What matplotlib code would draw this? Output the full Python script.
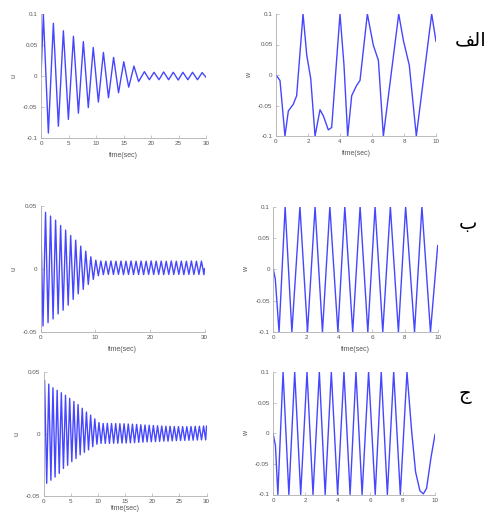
import numpy as np
import matplotlib
matplotlib.use("Agg")
import matplotlib.pyplot as plt

plt.rcParams['font.family'] = ['Liberation Sans', 'DejaVu Sans']

# --- case "alef": u(t) turning points, 0..30 s
u1_t = [0, 0.43, 1.34, 2.25, 3.16, 4.07, 4.98, 5.9, 6.8, 7.7, 8.6, 9.5, 10.43, 11.35,
        12.27, 13.2, 14.1, 15.05, 15.95, 16.9, 17.75, 18.8, 19.7, 20.55, 21.45, 22.3,
        23.2, 24.05, 24.95, 25.8, 26.7, 27.55, 28.45, 29.3, 30.0]
u1 = [0, 0.099, -0.092, 0.085, -0.081, 0.073, -0.070, 0.064, -0.060, 0.0555, -0.051,
      0.046, -0.042, 0.038, -0.035, 0.030, -0.027, 0.023, -0.018, 0.016, -0.009, 0.007,
      -0.006, 0.006, -0.006, 0.0065, -0.006, 0.006, -0.0065, 0.006, -0.006, 0.006,
      -0.006, 0.0055, -0.002]

# --- case "alef": w(t), 0..10 s
w1_t = [0, 0.25, 0.56, 0.77, 1.08, 1.29, 1.69, 1.92, 2.17, 2.44, 2.75, 2.96, 3.27, 3.48,
        4.0, 4.25, 4.48, 4.73, 5.04, 5.25, 5.71, 6.08, 6.4, 6.71, 7.67, 7.96, 8.33, 8.77,
        9.73, 10.0]
w1 = [0, -0.009, -0.1, -0.059, -0.048, -0.034, 0.1, 0.033, -0.006, -0.1, -0.057, -0.067,
      -0.09, -0.086, 0.1, 0.016, -0.1, -0.034, -0.017, -0.009, 0.1, 0.049, 0.024, -0.1,
      0.1, 0.057, 0.016, -0.1, 0.1, 0.055]

# --- case "be": u(t) peaks / troughs
u2_pk_t = [0.0, 0.92, 1.84, 2.76, 3.68, 4.6, 5.52, 6.44, 7.36, 8.28, 9.2, 10.12, 11.04,
           11.96, 12.88, 13.8, 14.72, 15.64, 16.56, 17.48, 18.4, 19.32, 20.24, 21.16,
           22.08, 23.0, 23.92, 24.84, 25.76, 26.68, 27.6, 28.52, 29.44]
u2_pk = [0.05, 0.045, 0.042, 0.0387, 0.0345, 0.0308, 0.0265, 0.0228, 0.018, 0.014, 0.0095,
         0.0068, 0.0062, 0.006, 0.0062, 0.006, 0.0061, 0.006, 0.0062, 0.006, 0.0061, 0.006,
         0.0062, 0.006, 0.0061, 0.006, 0.0062, 0.006, 0.0061, 0.006, 0.0062, 0.006, 0.0061]
u2_tr_t = [0.46, 1.38, 2.3, 3.22, 4.14, 5.06, 5.98, 6.9, 7.82, 8.74, 9.66, 10.58, 11.5,
           12.42, 13.34, 14.26, 15.18, 16.1, 17.02, 17.94, 18.86, 19.78, 20.7, 21.62,
           22.54, 23.46, 24.38, 25.3, 26.22, 27.14, 28.06, 28.98, 29.9]
u2_tr = [-0.0456, -0.043, -0.04, -0.036, -0.033, -0.029, -0.0244, -0.02, -0.0164, -0.0125,
         -0.0085, -0.0055, -0.0047, -0.0045, -0.0046, -0.0045, -0.0047, -0.0045, -0.0046,
         -0.0045, -0.0047, -0.0045, -0.0046, -0.0045, -0.0047, -0.0045, -0.0046, -0.0045,
         -0.0047, -0.0045, -0.0046, -0.0045, -0.0047]

# --- case "be": w(t)
w2_t = [0, 0.12, 0.35, 0.72, 1.13, 1.62, 2.08, 2.54, 2.99, 3.44, 3.93, 4.35, 4.83, 5.28,
        5.75, 6.19, 6.66, 7.12, 7.61, 8.05, 8.59, 9.04, 9.56, 10.0]
w2 = [0, -0.015, -0.1, 0.1, -0.1, 0.1, -0.1, 0.1, -0.1, 0.1, -0.1, 0.1, -0.1, 0.1, -0.1,
      0.1, -0.1, 0.1, -0.1, 0.1, -0.1, 0.1, -0.1, 0.038]

# --- case "jim": u(t) peaks / troughs
u3_pk_t = [0.2, 0.97, 1.74, 2.51, 3.28, 4.05, 4.82, 5.59, 6.36, 7.13, 7.9, 8.67, 9.44,
           10.21, 10.98, 11.75, 12.52, 13.29, 14.06, 14.83, 15.6, 16.37, 17.14, 17.91,
           18.68, 19.45, 20.22, 20.99, 21.76, 22.53, 23.3, 24.07, 24.84, 25.61, 26.38,
           27.15, 27.92, 28.69, 29.46]
u3_pk = [0.043, 0.040, 0.037, 0.035, 0.033, 0.031, 0.0285, 0.026, 0.0235, 0.0205, 0.0175,
         0.015, 0.012, 0.009, 0.0083, 0.0083, 0.0082, 0.0082, 0.008, 0.008, 0.0078, 0.0077,
         0.0075, 0.0072, 0.007, 0.0068, 0.0066, 0.0064, 0.0062, 0.006, 0.006, 0.0058,
         0.0057, 0.0057, 0.0057, 0.0058, 0.006, 0.006, 0.0062]
u3_tr_t = [0.59, 1.36, 2.13, 2.9, 3.67, 4.44, 5.21, 5.98, 6.75, 7.52, 8.29, 9.06, 9.83,
           10.6, 11.37, 12.14, 12.91, 13.68, 14.45, 15.22, 15.99, 16.76, 17.53, 18.3,
           19.07, 19.84, 20.61, 21.38, 22.15, 22.92, 23.69, 24.46, 25.23, 26.0, 26.77,
           27.54, 28.31, 29.08, 29.85]
u3_tr = [-0.040, -0.0375, -0.035, -0.032, -0.028, -0.0255, -0.0225, -0.020, -0.017, -0.015,
         -0.013, -0.0105, -0.0085, -0.0078, -0.0078, -0.0078, -0.0077, -0.0077, -0.0076,
         -0.0075, -0.0074, -0.0072, -0.007, -0.0068, -0.0066, -0.0065, -0.0064, -0.0062,
         -0.006, -0.006, -0.0058, -0.0056, -0.0055, -0.0054, -0.0053, -0.0052, -0.0051,
         -0.005, -0.005]

# --- case "jim": w(t)
w3_t = [0, 0.15, 0.3, 0.62, 0.98, 1.34, 1.71, 2.1, 2.47, 2.86, 3.22, 3.6, 3.99, 4.38,
        4.76, 5.12, 5.5, 5.9, 6.31, 6.68, 7.06, 7.45, 7.86, 8.27, 8.56, 8.8, 9.07, 9.28,
        9.48, 9.75, 10.0]
w3 = [0, -0.02, -0.1, 0.1, -0.1, 0.1, -0.1, 0.1, -0.1, 0.1, -0.1, 0.1, -0.1, 0.1, -0.1,
      0.1, -0.1, 0.1, -0.1, 0.1, -0.1, 0.1, -0.1, 0.1, 0.003, -0.063, -0.094, -0.099,
      -0.09, -0.04, -0.002]

# Arabic case labels, written in visual (left-to-right) presentation forms
case_labels = ['\uFED2\uFEDF\uFE8D', '\u0628', '\u062C']


def merge(start, pk_t, pk, tr_t, tr, end):
    t = np.concatenate([[start[0]], pk_t, tr_t, [end[0]]])
    v = np.concatenate([[start[1]], pk, tr, [end[1]]])
    order = np.argsort(t, kind='stable')
    return t[order], v[order]


u2_t, u2 = merge((0, 0.05), u2_pk_t[1:], u2_pk[1:], u2_tr_t, u2_tr, (30, 0.0))
u3_t, u3 = merge((0, 0.0), u3_pk_t, u3_pk, u3_tr_t, u3_tr, (30, 0.006))

W, H = 490, 513
fig = plt.figure(figsize=(W / 100, H / 100), dpi=100)


def box(x0, y0, x1, y1):
    return [x0 / W, 1 - y1 / H, (x1 - x0) / W, (y1 - y0) / H]


line_kw = dict(color='#4646ff', lw=1.0)
gray = '#b0b0b0'


def style(ax, xlim, xticks, ylim, yticks, ylabel, xlabel=True, xpad=4):
    ax.set_xlim(xlim)
    ax.set_ylim(ylim)
    ax.set_xticks(xticks)
    ax.set_yticks(yticks)
    ax.set_xticklabels(['%g' % x for x in xticks])
    ax.set_yticklabels(['%g' % y for y in yticks])
    for s in ['top', 'right']:
        ax.spines[s].set_visible(False)
    for s in ['left', 'bottom']:
        ax.spines[s].set_color(gray)
        ax.spines[s].set_linewidth(0.6)
    ax.tick_params(direction='in', length=2, width=0.5, color=gray,
                   labelsize=4.5, labelcolor='#555555', pad=2.5)
    ax.set_ylabel(ylabel, fontsize=5, color='#555555', labelpad=4)
    if xlabel:
        ax.set_xlabel('time(sec)', fontsize=5, color='#555555', labelpad=xpad)


u_ticks1 = [-0.1, -0.05, 0, 0.05, 0.1]
u_ticks2 = [-0.05, 0, 0.05]
w_ticks = [-0.1, -0.05, 0, 0.05, 0.1]

ax = fig.add_axes(box(41, 14, 206, 138))
ax.plot(u1_t, u1, **line_kw)
style(ax, (0, 30), [0, 5, 10, 15, 20, 25, 30], (-0.1, 0.1), u_ticks1, 'u')

ax = fig.add_axes(box(276, 14, 436, 136))
ax.plot(w1_t, w1, **line_kw)
style(ax, (0, 10), [0, 2, 4, 6, 8, 10], (-0.1, 0.1), w_ticks, 'w')

ax = fig.add_axes(box(40.5, 206, 204.5, 331.5))
ax.plot(u2_t, u2, **line_kw)
style(ax, (0, 30), [0, 10, 20, 30], (-0.05, 0.05), u_ticks2, 'u')

ax = fig.add_axes(box(273.3, 206.7, 437.7, 332))
ax.plot(w2_t, w2, **line_kw)
style(ax, (0, 10), [0, 2, 4, 6, 8, 10], (-0.1, 0.1), w_ticks, 'w')

ax = fig.add_axes(box(43.5, 371.7, 206.5, 495.7))
ax.plot(u3_t, u3, **line_kw)
style(ax, (0, 30), [0, 5, 10, 15, 20, 25, 30], (-0.05, 0.05), u_ticks2, 'u', xpad=0.3)

ax = fig.add_axes(box(273, 372, 435, 494.5))
ax.plot(w3_t, w3, **line_kw)
style(ax, (0, 10), [0, 2, 4, 6, 8, 10], (-0.1, 0.1), w_ticks, 'w', xlabel=False)

for lab, (x, y) in zip(case_labels, [(471, 40), (468, 224), (465, 394)]):
    fig.text(x / W, 1 - y / H, lab, fontsize=14, ha='center', va='center',
             family=['DejaVu Sans'], color='black')

fig.savefig('out.png', dpi=100)
